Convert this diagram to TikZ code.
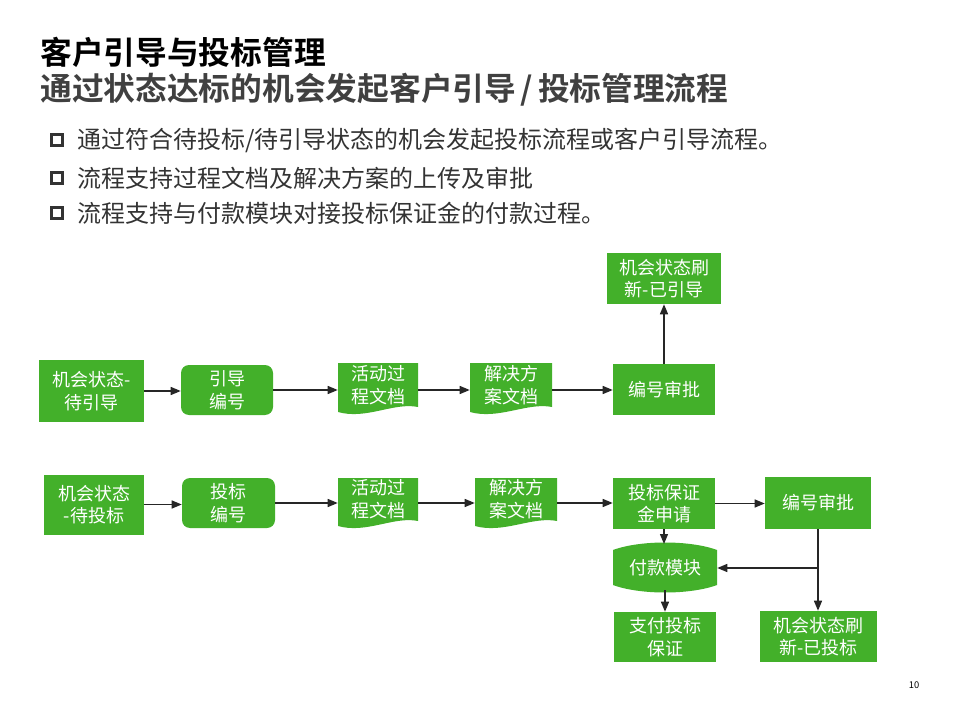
\documentclass[tikz,border=0pt]{standalone}
\usepackage{fontspec}
\setmainfont{Noto Sans CJK SC}[BoldFont={Noto Sans CJK SC Bold}]
\usetikzlibrary{arrows.meta}
\definecolor{gr}{RGB}{67,176,42}
\definecolor{txt}{RGB}{51,51,51}
\definecolor{sub}{RGB}{64,64,64}
\tikzset{
  wh/.style 2 args={minimum width=#1*0.75pt, minimum height=#2*0.75pt},
  gbox/.style={fill=gr, text=white, inner sep=0pt, align=center,
    font=\fontsize{13.5}{17}\selectfont},
  rbox/.style={gbox, rounded corners=6pt},
  ghost/.style={inner sep=0pt, text=white, align=center,
    font=\fontsize{13.5}{17}\selectfont},
  arr/.style={draw=black!85, line width=1pt, -{Triangle[length=7.5pt,width=6pt]}},
  bullet/.style={draw=txt, line width=2.4pt, inner sep=0pt, minimum size=8.6pt},
  btext/.style={anchor=west, inner sep=0pt, text=txt, font=\fontsize{18}{22}\selectfont},
}
\newcommand{\docpath}[4]{% x0 x1 top bottom
  \fill[gr] (#1,#3) -- (#2,#3) -- (#2,#4-7)
    .. controls ({#2-(#2-#1)*0.3},#4-12) and ({#1+(#2-#1)*0.35},#4+6) .. (#1,#4-2) -- cycle;}
\begin{document}
\begin{tikzpicture}[x=0.75pt,y=-0.75pt]
\useasboundingbox (0,0) rectangle (960,720);
% titles
\node[anchor=west, inner sep=0pt, font=\fontsize{23.8}{27}\selectfont\bfseries] (t1) at (40,52) {客户引导与投标管理};
\node[anchor=west, inner sep=0pt, text=sub, font=\fontsize{23.8}{27}\selectfont\bfseries] (t2) at (40,90) {通过状态达标的机会发起客户引导\hspace{0.15em}/\hspace{0.15em}投标管理流程};
% bullets
\node[bullet] (b1) at (57,140) {};
\node[bullet] (b2) at (57,178) {};
\node[bullet] (b3) at (57,213) {};
\node[btext] (l1) at (77,140) {通过符合待投标/待引导状态的机会发起投标流程或客户引导流程。};
\node[btext] (l2) at (77,178) {流程支持过程文档及解决方案的上传及审批};
\node[btext] (l3) at (77,213) {流程支持与付款模块对接投标保证金的付款过程。};
% row 1
\node[gbox, wh={105}{62}] (a1) at (91.5,391) {机会状态-\\待引导};
\node[rbox, wh={92}{50}] (b1n) at (227,390) {引导\\编号};
\docpath{338}{418}{363}{414}
\node[ghost, wh={80}{44}] (c1) at (378,385) {活动过\\程文档};
\docpath{470}{552}{363}{414}
\node[ghost, wh={82}{44}] (d1) at (511,385) {解决方\\案文档};
\node[gbox, wh={102}{51}] (e1) at (664,389.5) {编号审批};
\node[gbox, wh={114}{51}] (f1) at (664,278.5) {机会状态刷\\新-已引导};
\draw[arr] (a1.east) -- (b1n.west |- a1.east);
\draw[arr] (b1n.east) -- (c1.west |- b1n.east);
\draw[arr] (c1.east |- b1n.east) -- (d1.west |- b1n.east);
\draw[arr] (d1.east |- b1n.east) -- (e1.west |- b1n.east);
\draw[arr] (e1.north) -- (e1.north |- f1.south);
% row 2
\node[gbox, wh={100}{60}] (a2) at (94,504.5) {机会状态\\-待投标};
\node[rbox, wh={93}{50}] (b2) at (228.5,503) {投标\\编号};
\docpath{338}{418}{478}{528}
\node[ghost, wh={80}{44}] (c2) at (378,499) {活动过\\程文档};
\docpath{475}{557}{478}{528}
\node[ghost, wh={82}{44}] (d2) at (516,499) {解决方\\案文档};
\node[gbox, wh={102}{51}] (e2) at (664,503.5) {投标保证\\金申请};
\node[gbox, wh={106}{52}] (g2) at (818,503) {编号审批};
\fill[gr] (613,550) .. controls (640,540) and (690,540) .. (717,550) -- (717,585)
  .. controls (690,595) and (640,595) .. (613,585) -- cycle;
\node[ghost, wh={104}{46}] (h) at (665,568) {付款模块};
\node[gbox, wh={102}{50}] (i) at (665,637) {支付投标\\保证};
\node[gbox, wh={117}{51}] (j) at (818.5,636.5) {机会状态刷\\新-已投标};
\coordinate (br) at (g2.south |- h.east);
\draw[arr] (a2.east) -- (b2.west |- a2.east);
\draw[arr] (b2.east) -- (c2.west |- b2.east);
\draw[arr] (c2.east |- b2.east) -- (d2.west |- b2.east);
\draw[arr] (d2.east |- b2.east) -- (e2.west |- b2.east);
\draw[arr] (e2.east) -- (g2.west |- e2.east);
\draw[arr] (e2.south) -- (e2.south |- 0,544);
\draw[arr] (h.south |- 0,590) -- (i.north);
\draw[arr] (g2.south) -- (g2.south |- j.north);
\draw[arr] (br) -- (h.east);
% page number
\node[inner sep=0pt, font=\fontsize{7}{8}\selectfont] (pg) at (914,685) {10};
\end{tikzpicture}
\end{document}
